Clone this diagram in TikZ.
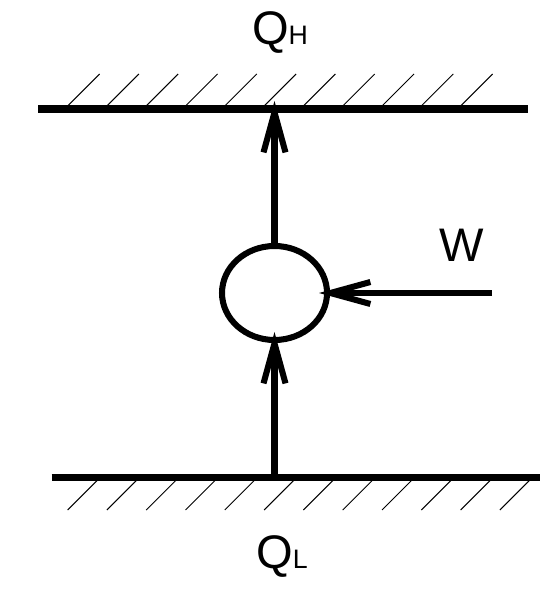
\documentclass[tikz,border=0pt]{standalone}
\usepackage{fontspec}
\setmainfont{Liberation Sans}
\usetikzlibrary{shapes.geometric,arrows.meta,positioning}

\begin{document}
\begin{tikzpicture}[
  wall/.style={line width=5pt},
  hatch/.style={line width=0.7pt},
  flow/.style={line width=4.3pt, -{Straight Barb[sharp, length=1cm, width=0.55cm]}, shorten >=-0.2cm},
  engine/.style={draw, ellipse, line width=4.3pt, minimum width=2.625cm, minimum height=2.35cm, inner sep=0pt, outer sep=0pt},
  big/.style={font=\fontsize{33.5}{36}\selectfont, inner sep=0pt}
]
\useasboundingbox (0,0) rectangle (13.925,14.925);

% Hot and cold reservoirs
\coordinate (hl) at (0.96,12.2);
\coordinate (hr) at (13.2,12.2);
\coordinate (cl) at (1.29,2.9875);
\coordinate (cr) at (13.51,2.9875);
\draw[wall] (hl) -- (hr);
\draw[wall] (cl) -- (cr);
\foreach \i in {0,...,10}
  \draw[hatch] (1.69+0.9825*\i,12.275) -- ++(0.8,0.8);
\foreach \i in {0,...,11}
  \draw[hatch] (2.44+0.9825*\i,2.925) -- ++(-0.75,-0.75);

% Engine and labels
\node[engine] (eng)  at (6.8625,7.6) {};
\node[big]    (qh)   at (7.0,14.1)    {Q{\fontsize{19}{22}\selectfont H}};
\node[big]    (ql)   at (7.05,1.0)    {Q{\fontsize{19}{22}\selectfont L}};
\node[big]    (wlbl) at (11.55,8.79)  {W};
\coordinate   (win)  at (12.3,7.6);

% Heat and work flows
\draw[flow] (eng.north) -- (eng.north |- hl);
\draw[flow] (eng.south |- cl) -- (eng.south);
\draw[flow] (win) -- (eng.east);
\end{tikzpicture}
\end{document}
